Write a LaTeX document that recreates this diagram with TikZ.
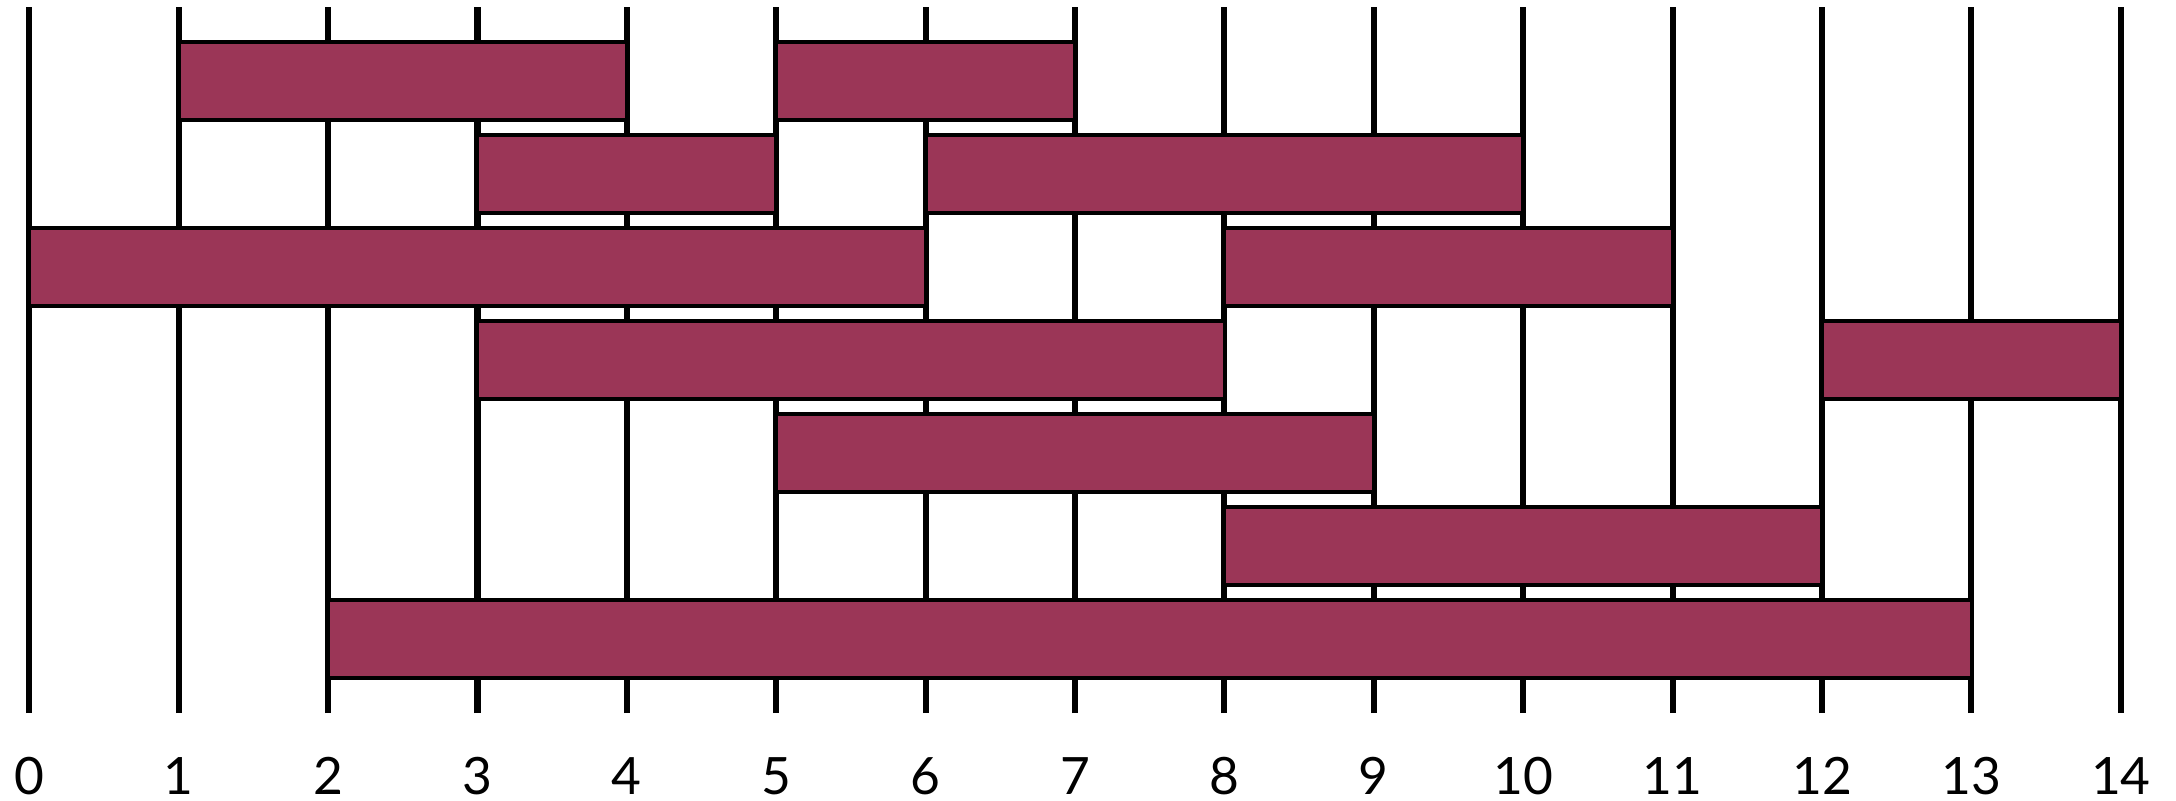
\documentclass[tikz,border=0pt]{standalone}
\usepackage{fontspec}
\setmainfont{Lato}
\definecolor{barred}{HTML}{9B3657}
\begin{document}
\begin{tikzpicture}[
    gridline/.style={line width=1.15pt},
    bar/.style={fill=barred,draw=black,line width=0.75pt},
    tick/.style={font=\fontsize{9.8}{12}\selectfont,inner sep=0pt}]
    \useasboundingbox (-0.196,0) rectangle (14.369,5.355);
    % grid lines and labels
    \foreach \i in {0,...,14}{
        \draw[gridline] (\i,0.582) -- (\i,5.308);
        \node[tick] (t\i) at (\i,0.161) {\i};
    }
    % bars: row/start/end
    \foreach \r/\a/\b in {1/1/4,1/5/7,2/3/5,2/6/10,3/0/6,3/8/11,4/3/8,4/12/14,5/5/9,6/8/12,7/2/13}{
        \pgfmathsetmacro{\yc}{4.813-(\r-1)*0.622}
        \draw[bar] (\a,\yc-0.261) rectangle (\b,\yc+0.261);
    }
\end{tikzpicture}
\end{document}
